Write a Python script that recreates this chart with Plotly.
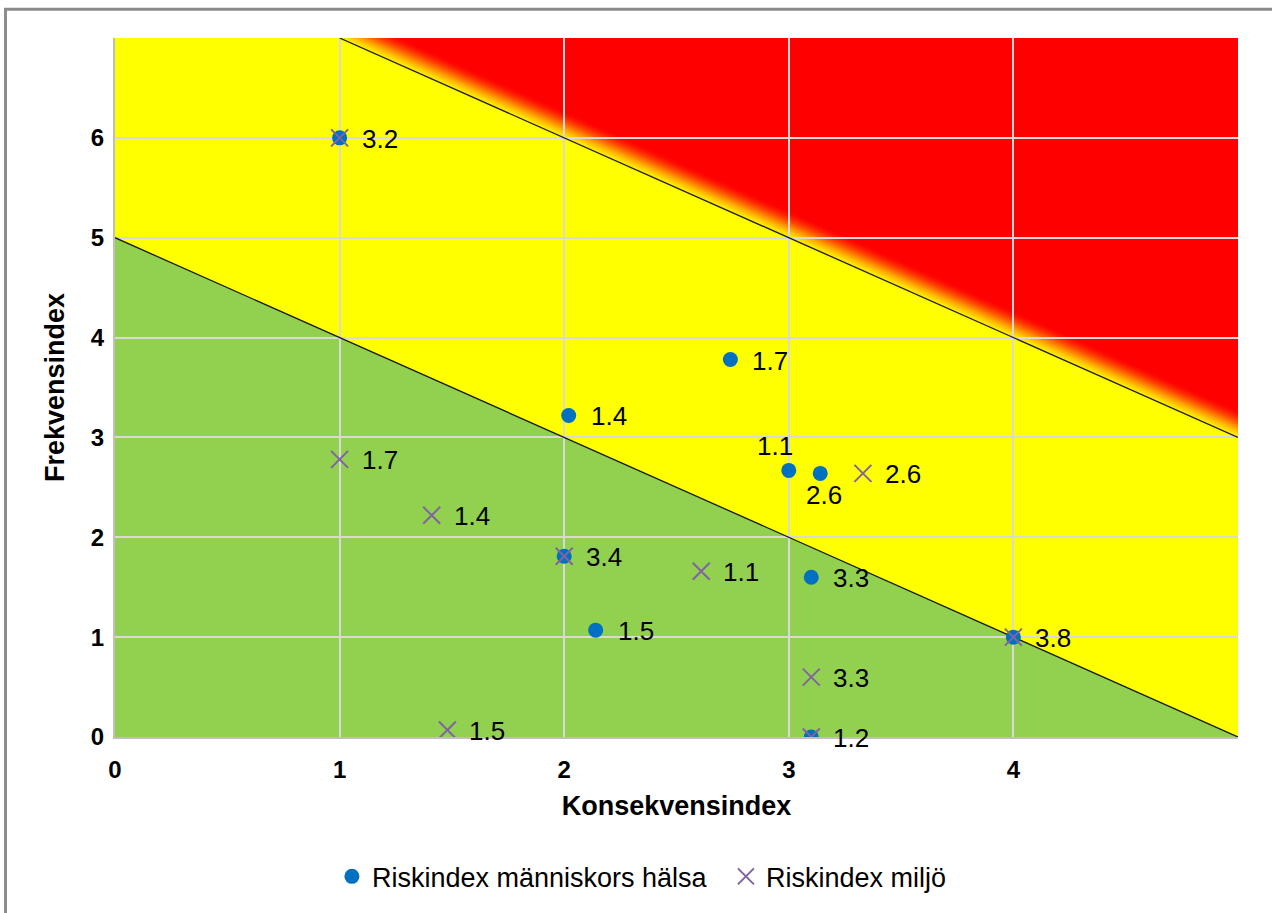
import numpy as np
import plotly.graph_objects as go

# Riskindex människors hälsa: (konsekvensindex, frekvensindex, risk-id)
halsa_x = [1.0, 2.74, 2.02, 3.0, 3.14, 2.0, 3.1, 2.14, 4.0, 3.1]
halsa_y = [6.0, 3.78, 3.22, 2.67, 2.64, 1.81, 1.6, 1.07, 1.0, 0.0]
halsa_id = ["3.2", "1.7", "1.4", "1.1", "2.6", "3.4", "3.3", "1.5", "3.8", "1.2"]

# Riskindex miljö
miljo_x = [1.0, 1.0, 1.41, 2.0, 2.61, 3.33, 3.1, 1.48, 4.0, 3.1]
miljo_y = [6.0, 2.78, 2.22, 1.81, 1.66, 2.64, 0.6, 0.07, 1.0, 0.0]
miljo_id = ["3.2", "1.7", "1.4", "3.4", "1.1", "2.6", "3.3", "1.5", "3.8", "1.2"]

x_ticks = [0, 1, 2, 3, 4]
y_ticks = [0, 1, 2, 3, 4, 5, 6]

# Zone limits: konsekvens + frekvens
green_limit = 5
red_limit = 8

X_MAX, Y_MAX = 5, 7

FONT = "Liberation Sans, Arial, sans-serif"
BLUE = "#0070C0"
PURPLE = "#8064A2"

fig = go.Figure()

fig.add_trace(go.Scatter(
    x=halsa_x, y=halsa_y, mode="markers",
    name="Riskindex människors hälsa",
    marker=dict(symbol="circle", size=15, color=BLUE),
    hoverinfo="skip",
))
fig.add_trace(go.Scatter(
    x=miljo_x, y=miljo_y, mode="markers",
    name="Riskindex miljö",
    marker=dict(symbol="x-thin", size=17, line=dict(width=2, color=PURPLE), color=PURPLE),
    hoverinfo="skip",
))

shapes = []

# Green zone below the lower limit
shapes.append(dict(
    type="path", xref="x", yref="y", layer="below",
    path=f"M 0,0 L 0,{green_limit} L {green_limit},0 Z",
    fillcolor="#92D050", line=dict(width=0),
))

# Red zone above the upper limit, with a soft yellow-to-red transition
offsets = np.linspace(-0.05, 0.28, 36)
for i, d in enumerate(offsets):
    t = i / (len(offsets) - 1)
    s = t * t * (3 - 2 * t)
    g = int(round(255 * (1 - s)))
    c = red_limit + d
    shapes.append(dict(
        type="path", xref="x", yref="y", layer="below",
        path=f"M {c - Y_MAX},{Y_MAX} L {X_MAX},{Y_MAX} L {X_MAX},{c - X_MAX} Z",
        fillcolor=f"rgb(255,{g},0)", line=dict(width=0),
    ))

# Zone boundary lines
shapes.append(dict(
    type="line", xref="x", yref="y", layer="between",
    x0=0, y0=green_limit, x1=green_limit, y1=0,
    line=dict(color="#1a1a1a", width=1.3),
))
shapes.append(dict(
    type="line", xref="x", yref="y", layer="between",
    x0=red_limit - Y_MAX, y0=Y_MAX, x1=X_MAX, y1=red_limit - X_MAX,
    line=dict(color="#1a1a1a", width=1.3),
))

# Chart frame
shapes.append(dict(
    type="rect", xref="paper", yref="paper", layer="above",
    x0=-0.0975, y0=-0.5, x1=1.2, y1=1.0413,
    line=dict(color="#8C8C8C", width=3), fillcolor="rgba(0,0,0,0)",
))

# Data labels with the risk id
annotations = []
special = {"1.1": (-14, 24, "center"), "2.6": (4, -22, "center")}
for xs, ys, ids, is_halsa in [(halsa_x, halsa_y, halsa_id, True),
                              (miljo_x, miljo_y, miljo_id, False)]:
    for x, y, lab in zip(xs, ys, ids):
        if not is_halsa and any(abs(x - hx) < 1e-9 and abs(y - hy) < 1e-9
                                for hx, hy in zip(halsa_x, halsa_y)):
            continue
        xshift, yshift, anchor = 20, -1, "left"
        if is_halsa and lab in special:
            xshift, yshift, anchor = special[lab]
        annotations.append(dict(
            x=x, y=y, xref="x", yref="y", text=lab, showarrow=False,
            xanchor=anchor, yanchor="middle", xshift=xshift, yshift=yshift,
            font=dict(family=FONT, size=26, color="black"),
        ))

fig.update_layout(
    width=1272, height=913,
    margin=dict(l=115, r=34, t=38, b=173),
    paper_bgcolor="white",
    plot_bgcolor="#FFFF00",
    font=dict(family=FONT, color="black"),
    shapes=shapes,
    annotations=annotations,
    showlegend=True,
    legend=dict(
        orientation="h", x=0.544, xanchor="center", y=-0.2, yanchor="middle",
        font=dict(family=FONT, size=27, color="black"),
        itemsizing="trace", bgcolor="rgba(0,0,0,0)",
        entrywidth=349, entrywidthmode="pixels",
    ),
    xaxis=dict(
        range=[0, X_MAX], tickvals=x_ticks, ticktext=[str(v) for v in x_ticks],
        showgrid=True, gridcolor="#D9D9D9", gridwidth=2,
        showline=True, linecolor="#BFBFBF", linewidth=2, zeroline=False,
        ticks="", ticklabelstandoff=10,
        tickfont=dict(family=FONT, size=24, color="black", weight="bold"),
        title=dict(text="Konsekvensindex", standoff=14,
                   font=dict(family=FONT, size=27, color="black", weight="bold")),
    ),
    yaxis=dict(
        range=[0, Y_MAX], tickvals=y_ticks, ticktext=[str(v) for v in y_ticks],
        showgrid=True, gridcolor="#D9D9D9", gridwidth=2,
        showline=True, linecolor="#BFBFBF", linewidth=2, zeroline=False,
        ticks="", ticklabelstandoff=4,
        tickfont=dict(family=FONT, size=24, color="black", weight="bold"),
        title=dict(text="Frekvensindex", standoff=18,
                   font=dict(family=FONT, size=27, color="black", weight="bold")),
    ),
)

fig.write_html("out.html")
